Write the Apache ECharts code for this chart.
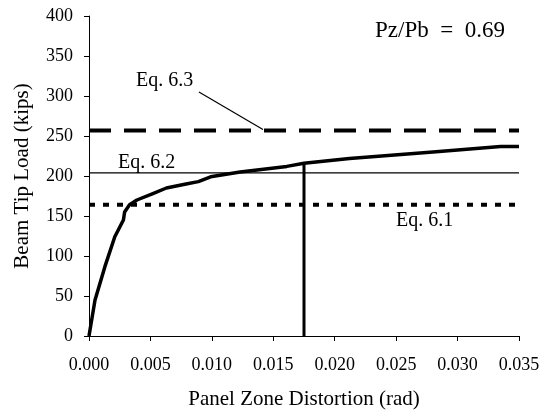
<!DOCTYPE html>
<html>
<head>
<meta charset="utf-8">
<script src="https://cdn.jsdelivr.net/npm/echarts@6/dist/echarts.min.js"></script>
<style>
  html, body { margin: 0; padding: 0; background: #fff; }
  #chart { width: 549px; height: 420px; }
</style>
</head>
<body>
<div id="chart"></div>
<script>
// Measured load vs. panel zone distortion
const distortion = [0, 0.00049, 0.0013, 0.0021, 0.0028, 0.0029, 0.0033, 0.0039, 0.0052, 0.0063, 0.0079, 0.0089, 0.0099, 0.0123, 0.0161, 0.0175, 0.0212, 0.0280, 0.0335, 0.0350];
const load       = [0, 45, 87, 124, 145, 155, 164, 170, 178, 185, 190, 193, 199, 205, 212, 216, 222, 230, 237, 237];

// Predicted strengths
const eq61 = 164;
const eq62 = 204;
const eq63 = 257;
const xRange = [0, 0.035];

// Distortion at which the vertical marker is drawn
const markerX = 0.0175;
const markerLoad = 216;

// Leader from the "Eq. 6.3" label to its line
const leaderX = [0.00895, 0.01416];
const leaderY = [305, 258];

const xTicks = ['0.000', '0.005', '0.010', '0.015', '0.020', '0.025', '0.030', '0.035'];

const FONT = '"Liberation Serif", "DejaVu Serif", serif';

const curve = distortion.map((d, i) => [d, load[i]]);
const hline = v => xRange.map(x => [x, v]);

const chart = echarts.init(document.getElementById('chart'), null, { renderer: 'canvas' });
chart.setOption({
  animation: false,
  backgroundColor: '#ffffff',
  grid: { left: 89, right: 30, top: 16, bottom: 84, containLabel: false },
  xAxis: {
    type: 'value', min: 0, max: 0.035, interval: 0.005,
    name: 'Panel Zone Distortion (rad)', nameLocation: 'middle', nameGap: 53,
    nameTextStyle: { fontFamily: FONT, fontSize: 21, color: '#000' },
    axisLine: { show: true, lineStyle: { color: '#000', width: 1 } },
    axisTick: { show: true, inside: false, length: 5, lineStyle: { color: '#000' } },
    axisLabel: { fontFamily: FONT, fontSize: 18, color: '#000', margin: 20,
      formatter: v => xTicks[Math.round(v / 0.005)] },
    splitLine: { show: false }
  },
  yAxis: {
    type: 'value', min: 0, max: 400, interval: 50,
    name: 'Beam Tip Load (kips)', nameLocation: 'middle', nameGap: 56,
    nameTextStyle: { fontFamily: FONT, fontSize: 21, color: '#000' },
    axisLine: { show: true, lineStyle: { color: '#000', width: 1 } },
    axisTick: { show: true, inside: false, length: 5, lineStyle: { color: '#000' } },
    axisLabel: { fontFamily: FONT, fontSize: 18, color: '#000', margin: 16 },
    splitLine: { show: false }
  },
  series: [
    { type: 'line', data: hline(eq63), symbol: 'none', silent: true,
      lineStyle: { color: '#000', width: 4, type: [22, 13] } },
    { type: 'line', data: hline(eq62), symbol: 'none', silent: true,
      lineStyle: { color: '#000', width: 1.2 } },
    { type: 'line', data: hline(eq61), symbol: 'none', silent: true,
      lineStyle: { color: '#000', width: 4, type: [6, 8] } },
    { type: 'line', data: [[leaderX[0], leaderY[0]], [leaderX[1], leaderY[1]]], symbol: 'none', silent: true,
      lineStyle: { color: '#000', width: 1.2 } },
    { type: 'line', data: [[markerX, 0], [markerX, markerLoad]], symbol: 'none', silent: true,
      lineStyle: { color: '#000', width: 3 } },
    { type: 'line', data: curve, symbol: 'none', silent: true,
      lineStyle: { color: '#000', width: 3.5, join: 'round' } }
  ],
  graphic: [
    { type: 'text', left: 375, top: 19, style: { text: 'Pz/Pb  =  0.69', font: '23px ' + FONT, fill: '#000' } },
    { type: 'text', left: 136, top: 71, style: { text: 'Eq. 6.3', font: '20px ' + FONT, fill: '#000' } },
    { type: 'text', left: 118, top: 153, style: { text: 'Eq. 6.2', font: '20px ' + FONT, fill: '#000' } },
    { type: 'text', left: 396, top: 211, style: { text: 'Eq. 6.1', font: '20px ' + FONT, fill: '#000' } }
  ]
});
</script>
</body>
</html>
